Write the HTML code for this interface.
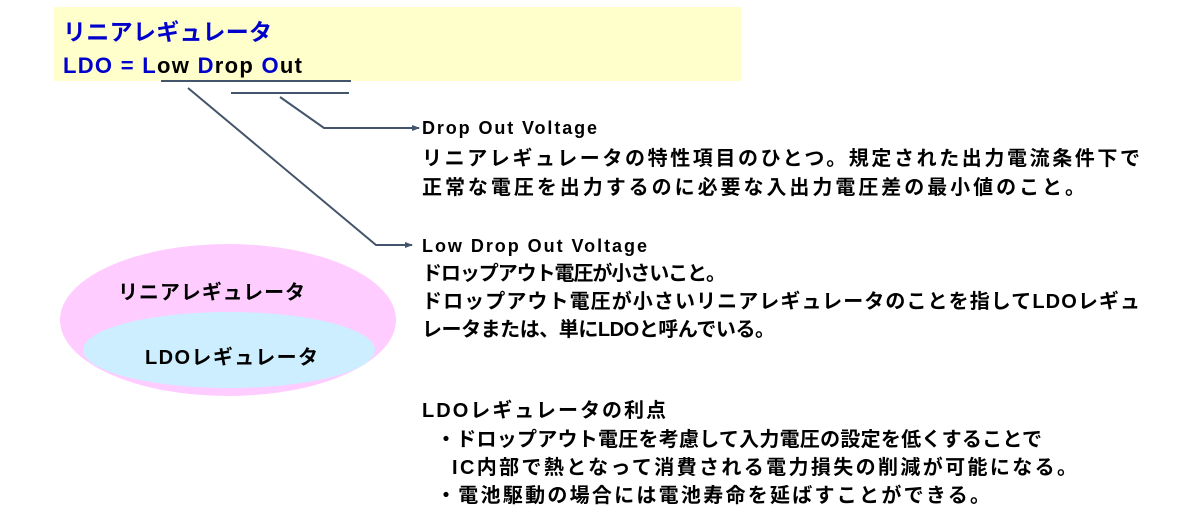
<!DOCTYPE html>
<html><head><meta charset="utf-8"><style>
body{margin:0;width:1193px;height:520px;background:#fff;overflow:hidden}
svg text{font-family:"Liberation Sans","Noto Sans CJK JP",sans-serif;font-weight:bold}
</style></head><body>
<svg width="1193" height="520" xmlns="http://www.w3.org/2000/svg">
<defs><marker id="a" markerWidth="8" markerHeight="8" refX="7" refY="4" orient="auto" markerUnits="userSpaceOnUse"><path d="M0,1 L8,4 L0,7z" fill="#44546a"/></marker></defs>
<rect x="54" y="7" width="687" height="74" fill="#ffffcc"/>
<text x="63" y="40" font-size="23" fill="#0000cc" textLength="209" lengthAdjust="spacing">リニアレギュレータ</text>
<text x="63" y="73" font-size="22" fill="#0000cc" textLength="239" lengthAdjust="spacing">LDO = L<tspan fill="#000">ow </tspan>D<tspan fill="#000">rop </tspan>O<tspan fill="#000">ut</tspan></text>
<g stroke="#44546a" stroke-width="2" fill="none">
<line x1="161" y1="81" x2="351" y2="81"/>
<line x1="231" y1="93" x2="349" y2="93"/>
<polyline points="188,88 376,245 412,245" marker-end="url(#a)"/>
<polyline points="280,97 324,128 419,128" marker-end="url(#a)"/>
</g>
<ellipse cx="228" cy="320" rx="168" ry="76" fill="#ffccff"/>
<ellipse cx="229" cy="350" rx="146" ry="38" fill="#cceeff"/>
<text x="118" y="299" font-size="20" fill="#000" textLength="187" lengthAdjust="spacing">リニアレギュレータ</text>
<text x="145" y="364" font-size="20" fill="#000" textLength="173" lengthAdjust="spacing">LDOレギュレータ</text>
<g font-size="20" fill="#000" lengthAdjust="spacing">
<text x="422" y="134" font-size="18" textLength="175">Drop Out Voltage</text>
<text x="422" y="165" textLength="718">リニアレギュレータの特性項目のひとつ。規定された出力電流条件下で</text>
<text x="422" y="194" textLength="663">正常な電圧を出力するのに必要な入出力電圧差の最小値のこと。</text>
<text x="422" y="252" font-size="18" textLength="225">Low Drop Out Voltage</text>
<text x="422" y="280" textLength="304">ドロップアウト電圧が小さいこと。</text>
<text x="422" y="308" textLength="718">ドロップアウト電圧が小さいリニアレギュレータのことを指してLDOレギュ</text>
<text x="422" y="336" textLength="353">レータまたは、単にLDOと呼んでいる。</text>
<text x="422" y="417" textLength="244">LDOレギュレータの利点</text>
<text x="436" y="446" textLength="606">・ドロップアウト電圧を考慮して入力電圧の設定を低くすることで</text>
<text x="452" y="474" textLength="625">IC内部で熱となって消費される電力損失の削減が可能になる。</text>
<text x="436" y="502" textLength="554">・電池駆動の場合には電池寿命を延ばすことができる。</text>
</g>
</svg>
</body></html>
